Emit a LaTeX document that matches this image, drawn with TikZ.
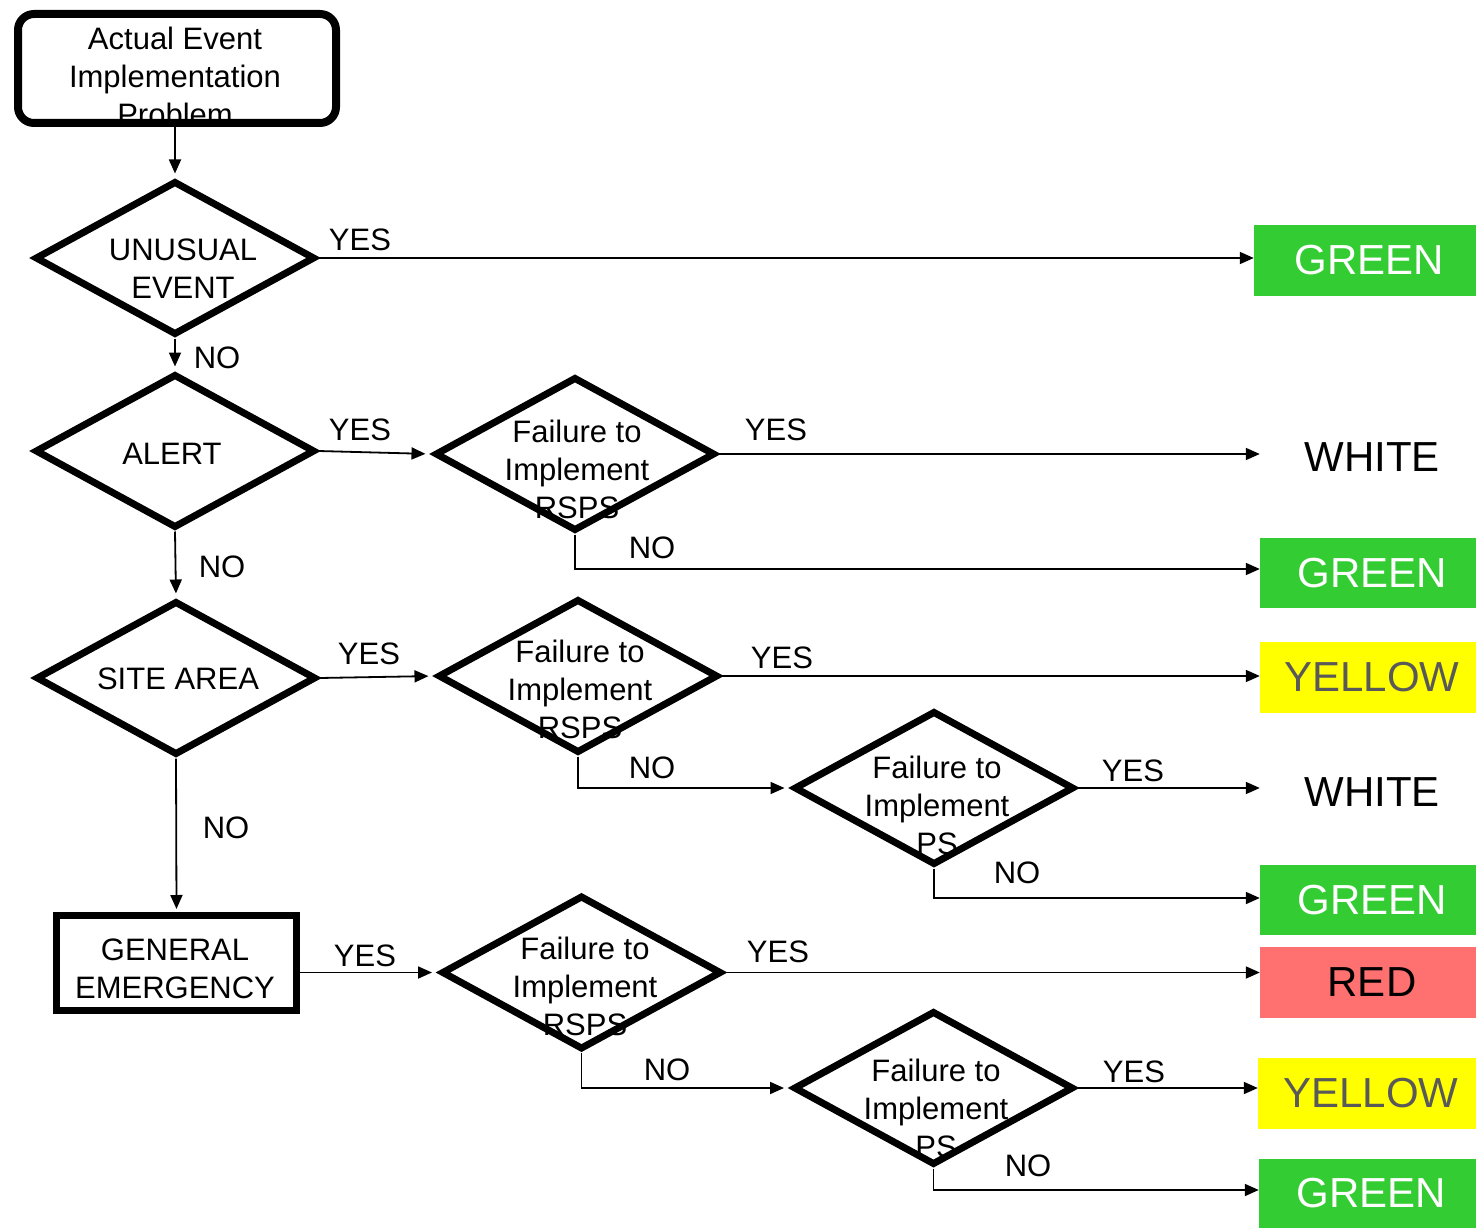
\documentclass[tikz,border=0pt]{standalone}
\usepackage{fontspec}
\setmainfont{Liberation Sans}
\usetikzlibrary{shapes.geometric,arrows.meta}
\definecolor{resgreen}{HTML}{33CC33}
\definecolor{resred}{HTML}{FF7070}
\definecolor{resyellow}{HTML}{FFFF00}
\definecolor{ytext}{HTML}{595959}
\tikzset{
  dia/.style={shape=diamond, draw, line width=7pt, miter limit=10, minimum width=280pt, minimum height=154pt, inner sep=0pt},
  txt/.style={font=\fontsize{31}{38}\selectfont, align=center, inner sep=0pt},
  lbl/.style={font=\fontsize{31}{38}\selectfont, inner sep=0pt},
  res/.style={font=\fontsize{42}{48}\selectfont, inner sep=0pt, minimum width=216pt, minimum height=70pt, execute at begin node={\hspace*{8pt}}},
  conn/.style={line width=1.8pt, -{Triangle[length=14pt,width=12pt]}},
}
\begin{document}
\begin{tikzpicture}[x=1pt,y=-1pt]
\useasboundingbox (0,0) rectangle (1476,1228);
% start box
\node[draw, line width=8pt, rounded corners=16pt, minimum width=318pt, minimum height=109pt, inner sep=0pt] (sb) at (177,68.5) {};
\node[txt] (sbt) at (175,76) {Actual Event\\Implementation\\Problem};
% diamonds
\node[dia] (d1) at (175,258) {};
\node[txt] (d1t) at (183,269) {UNUSUAL\\EVENT};
\node[dia] (d2) at (175,451) {};
\node[txt] (d2t) at (172,454) {ALERT};
\node[dia] (d3) at (575,454) {};
\node[txt] (d3t) at (577,469) {Failure to\\Implement\\RSPS};
\node[dia] (d4) at (176,678) {};
\node[txt] (d4t) at (178,679) {SITE AREA};
\node[dia] (d5) at (578,676) {};
\node[txt] (d5t) at (580,689) {Failure to\\Implement\\RSPS};
\node[dia] (d6) at (934,788) {};
\node[txt] (d6t) at (937,805) {Failure to\\Implement\\PS};
\node[draw, line width=7pt, minimum width=240pt, minimum height=95pt, inner sep=0pt] (ge) at (176.5,963) {};
\node[txt] (get) at (175,969) {GENERAL\\EMERGENCY};
\node[dia] (d7) at (581.5,972.5) {};
\node[txt] (d7t) at (585,986) {Failure to\\Implement\\RSPS};
\node[dia] (d8) at (933.5,1088) {};
\node[txt] (d8t) at (936,1108) {Failure to\\Implement\\PS};
% results
\node[res, fill=resgreen, text=white, minimum width=222pt, minimum height=71pt] (g1) at (1365,260.5) {GREEN};
\node[res] (w1) at (1368,457) {WHITE};
\node[res, fill=resgreen, text=white] (g2) at (1368,573) {GREEN};
\node[res, fill=resyellow, text=ytext, minimum height=71pt] (y1) at (1368,677.5) {YELLOW};
\node[res] (w2) at (1368,792) {WHITE};
\node[res, fill=resgreen, text=white] (g3) at (1368,900) {GREEN};
\node[res, fill=resred, text=black, minimum height=71pt] (r1) at (1368,982.5) {RED};
\node[res, fill=resyellow, text=ytext, minimum width=218pt, minimum height=71pt] (y2) at (1367,1093.5) {YELLOW};
\node[res, fill=resgreen, text=white, minimum width=217pt, minimum height=69pt] (g4) at (1367.5,1193.5) {GREEN};
% connectors
\draw[conn, shorten >=4pt] (d1.north |- sb.south) -- (d1.north);
\draw[conn] (d1.east) -- (d1.east -| g1.west);
\draw[conn, shorten >=4pt] (d1.south) -- (d2.north);
\draw[conn, shorten >=6pt] (d2.east) -- (d3.west);
\draw[conn] (d3.east) -- (d3.east -| w1.west);
\draw[conn] (d3.south) |- ([yshift=4pt]g2.west);
\draw[conn, shorten >=4pt] (d2.south) -- (d4.north);
\draw[conn, shorten >=6pt] (d4.east) -- (d5.west);
\draw[conn] (d5.east) -- (d5.east -| y1.west);
\draw[conn, shorten >=6pt] (d5.south) |- (d6.west);
\draw[conn] (d6.east) -- (d6.east -| w2.west);
\draw[conn] (d6.south) |- ([yshift=2pt]g3.west);
\draw[conn, shorten >=3pt] (d4.south) -- (ge.north);
\draw[conn, shorten >=6pt] (ge.east |- d7.west) -- (d7.west);
\draw[conn] (d7.east) -- (d7.east -| r1.west);
\draw[conn, shorten >=6pt] (d7.south) |- (d8.west);
\draw[conn] (d8.east) -- (d8.east -| y2.west);
\draw[conn] (d8.south) |- ([yshift=3.5pt]g4.west);
% labels
\node[lbl] (l1) at (360,240) {YES};
\node[lbl] (l2) at (217,358) {NO};
\node[lbl] (l3) at (360,430) {YES};
\node[lbl] (l4) at (776,430) {YES};
\node[lbl] (l5) at (652,548) {NO};
\node[lbl] (l6) at (222,567) {NO};
\node[lbl] (l7) at (369,654) {YES};
\node[lbl] (l8) at (782,658) {YES};
\node[lbl] (l9) at (652,768) {NO};
\node[lbl] (l10) at (1133,771) {YES};
\node[lbl] (l11) at (1017,873) {NO};
\node[lbl] (l12) at (226,828) {NO};
\node[lbl] (l13) at (365,956) {YES};
\node[lbl] (l14) at (778,952) {YES};
\node[lbl] (l15) at (667,1070) {NO};
\node[lbl] (l16) at (1134,1072) {YES};
\node[lbl] (l17) at (1028,1166) {NO};
\end{tikzpicture}
\end{document}
